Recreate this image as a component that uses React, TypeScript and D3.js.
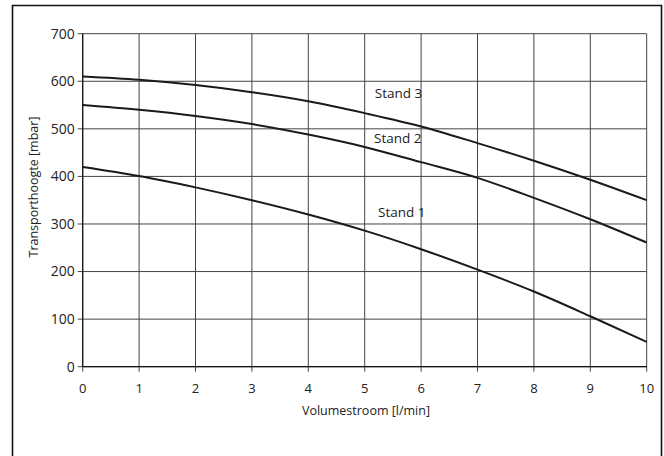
import React from "react";
import * as d3 from "d3";

const flow = [0, 1, 2, 3, 4, 5, 6, 7, 8, 9, 10];
const stand3 = [610, 603, 592, 577, 558, 533, 505, 470, 433, 393, 350];
const stand2 = [550, 540, 527, 510, 488, 462, 430, 397, 355, 310, 261];
const stand1 = [420, 401, 377, 350, 320, 286, 247, 204, 158, 106, 52];
const seriesNames = ["Stand 3", "Stand 2", "Stand 1"];
const labelPos = [
  { x: 5.18, y: 565 },
  { x: 5.165, y: 470 },
  { x: 5.236, y: 315 },
];
const xTicks = [0, 1, 2, 3, 4, 5, 6, 7, 8, 9, 10];
const yTicks = [0, 100, 200, 300, 400, 500, 600, 700];

export default function App() {
  const W = 664, H = 456;
  const x = d3.scaleLinear().domain([0, 10]).range([82.7, 646.7]);
  const y = d3.scaleLinear().domain([0, 700]).range([366.7, 33.7]);
  const line = d3
    .line<number>()
    .x((_, i) => x(flow[i]))
    .y((d) => y(d))
    .curve(d3.curveMonotoneX);
  const series = [stand3, stand2, stand1];
  const font = "Open Sans, Lato, sans-serif";
  return (
    <svg
      width={W}
      height={H}
      style={{ position: "absolute", left: 0, top: 0, background: "#fff" }}
      fontFamily={font}
    >
      <rect x={0} y={0} width={W} height={H} fill="#fff" />
      <path d={`M12.5,${H + 2} V5.5 H661.5 V${H + 2}`} fill="none" stroke="#111" strokeWidth={1.6} />
      {xTicks.map((t) => (
        <line key={"gx" + t} x1={x(t)} x2={x(t)} y1={y(700)} y2={y(0) + 5} stroke="#444" strokeWidth={1} />
      ))}
      {yTicks.map((t) => (
        <line key={"gy" + t} x1={x(0) - 5} x2={x(10)} y1={y(t)} y2={y(t)} stroke="#444" strokeWidth={1} />
      ))}
      <line x1={x(0)} x2={x(0)} y1={y(700)} y2={y(0)} stroke="#111" strokeWidth={1.2} />
      <line x1={x(0)} x2={x(10)} y1={y(0)} y2={y(0)} stroke="#111" strokeWidth={1.2} />
      {series.map((s, i) => (
        <path key={i} d={line(s) || ""} fill="none" stroke="#1a1a1a" strokeWidth={2} />
      ))}
      {yTicks.map((t) => (
        <text key={"ly" + t} x={x(0) - 8} y={y(t)} dy="0.35em" textAnchor="end" fontSize={14} fill="#222">
          {t}
        </text>
      ))}
      {xTicks.map((t) => (
        <text key={"lx" + t} x={x(t)} y={393} textAnchor="middle" fontSize={13} fill="#222">
          {t}
        </text>
      ))}
      {seriesNames.map((n, i) => (
        <text key={n} x={x(labelPos[i].x)} y={y(labelPos[i].y)} fontSize={13.5} fill="#222">
          {n}
        </text>
      ))}
      <text x={366} y={415} textAnchor="middle" fontSize={12.5} fill="#222">
        Volumestroom [l/min]
      </text>
      <text
        transform={`translate(37.5,187) rotate(-90)`}
        textAnchor="middle"
        fontSize={12.5}
        fill="#222"
      >
        Transporthoogte [mbar]
      </text>
    </svg>
  );
}
